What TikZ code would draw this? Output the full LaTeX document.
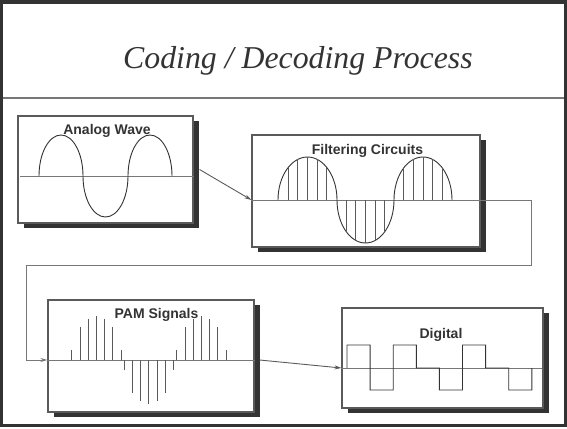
\documentclass[tikz,border=0pt]{standalone}
\usepackage{fontspec}
\setmainfont{Liberation Serif}
\setsansfont{Liberation Sans}
\usetikzlibrary{positioning, arrows.meta, calc, shadows}
\definecolor{ink}{HTML}{333333}
\definecolor{rule}{HTML}{777777}
\definecolor{edge}{HTML}{5a5a5a}

\begin{document}
\begin{tikzpicture}[x=1pt, y=-1pt,
  panel/.style={rectangle, draw=edge, line width=1.1pt, fill=white, inner sep=0pt,
    drop shadow={shadow xshift=6pt, shadow yshift=-5pt, fill=ink, opacity=1}},
  tag/.style={anchor=base, text=ink, font=\fontsize{14}{16}\sffamily\bfseries},
  axis/.style={rule, line width=1pt},
  wave/.style={ink, line width=0.9pt},
  sample/.style={edge, line width=0.9pt},
  link/.style={edge, line width=0.9pt, -{Stealth[length=7pt, width=4pt]}}
]
  \useasboundingbox (0,0) rectangle (567,428);

  % frame and heading
  \draw[ink, line width=3.4pt] (1.7,2) rectangle (565.3,425.5);
  \draw[rule, line width=1.5pt] (3.4,98) -- (563.6,98);
  \node[anchor=base west, inner sep=0pt, text=ink, font=\fontsize{31.8}{36}\selectfont\itshape]
    (title) at (123,68) {Coding / Decoding Process};

  % the four stages
  \node[panel, minimum width=175pt, minimum height=107pt] (analog) at (105.5,169.5) {};
  \node[panel, minimum width=228pt, minimum height=112pt] (filter) at (366,191) {};
  \node[panel, minimum width=206pt, minimum height=112pt] (pam) at (151,356) {};
  \node[panel, minimum width=201pt, minimum height=100pt] (digital) at (442.5,358) {};

  \node[tag] (analogTag) at (107,134) {Analog Wave};
  \node[tag] (filterTag) at (367.5,154.5) {Filtering Circuits};
  \node[tag] (pamTag) at (156.5,318) {PAM Signals};
  \node[tag] (digitalTag) at (441,338) {Digital};

  % analog wave
  \draw[axis] ($(analog.west)+(3,6.5)$) -- ($(analog.east)+(0,6.5)$);
  \draw[wave] (39,176) arc[start angle=180, end angle=360, x radius=22, y radius=41]
    arc[start angle=180, end angle=0, x radius=22.5, y radius=41]
    arc[start angle=180, end angle=360, x radius=22, y radius=41];

  % filtered wave with its sample lines
  \draw[axis] ($(filter.west)+(0,9)$) -- ($(filter.east)+(0,9)$);
  \draw[wave] (278,200) arc[start angle=180, end angle=360, x radius=29.5, y radius=43]
    arc[start angle=180, end angle=0, x radius=28.5, y radius=43]
    arc[start angle=180, end angle=360, x radius=29, y radius=43];
  \foreach \c/\s in {307.5/-1, 365.5/1, 423/-1}
    \foreach \k in {-2,...,2}
      \draw[sample] (\c+\k*9.7, 200) -- ++(0, {\s*43*sqrt(1-(\k*9.7/29)^2)});

  % pulse amplitudes
  \draw[axis] ($(pam.west)+(0,4)$) -- ($(pam.east)+(0,4)$);
  \foreach \c/\s in {96.4/-1, 148.9/1, 201.4/-1}
    \foreach \k/\h in {-3/10, -2/33, -1/41, 0/44, 1/41, 2/33, 3/10}
      \draw[sample] (\c+\k*8.2, 360) -- ++(0, \s*\h);

  % digital levels
  \draw[axis] ($(digital.west)+(0,10)$) -- ($(digital.east)+(-2,10)$);
  \draw[wave] (347,368)
    \foreach \l [count=\i from 0] in {-23, 22, -23, 0, 22, -23, 0, 22} {
      -- (347+\i*23.1, 368+\l) -- (370.1+\i*23.1, 368+\l)
    } -- (531.8,368);

  % connectors
  \coordinate (bendR) at (531,265);
  \coordinate (bendL) at (26,265);
  \draw[link] ($(analog.east)+(6,0)$) -- ($(filter.west)+(0,9)$);
  \draw[link, rule] ($(filter.east)+(0,9)$) -| (bendR) -- (bendL) |- ($(pam.west)+(0,4)$);
  \draw[link] ($(pam.east)+(5,4)$) -- ($(digital.west)+(0,10)$);
\end{tikzpicture}
\end{document}
